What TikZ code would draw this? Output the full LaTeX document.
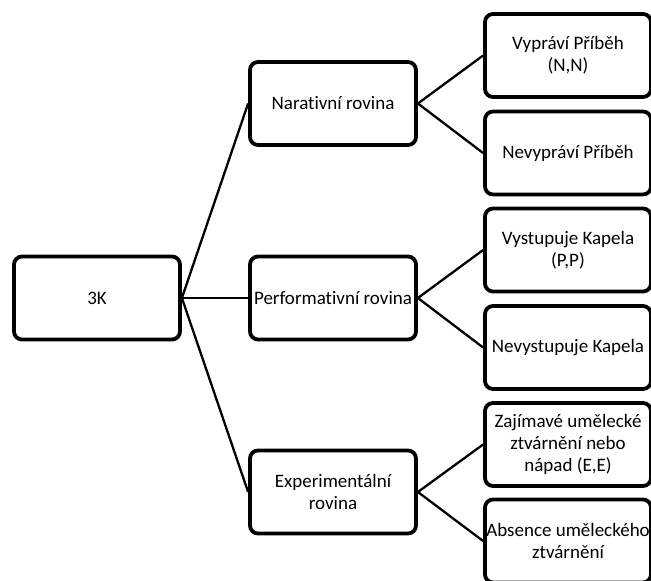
\documentclass[tikz,border=0pt]{standalone}
\usepackage{fontspec}
\setmainfont{Carlito}[Ligatures=NoCommon]
\begin{document}
\begin{tikzpicture}[x=1pt,y=-1pt,
  box/.style={draw=black, line width=3.8pt, rounded corners=8pt, fill=white,
    minimum width=166pt, minimum height=83pt, align=center, inner sep=1pt,
    font=\fontsize{19}{22}\selectfont},
  link/.style={draw=black, line width=2.3pt}]
  \useasboundingbox (0,0) rectangle (651,581);
  % root
  \node[box] (root) at (97,298) {3K};
  % second level
  \node[box] (nar) at (333,103.5) {Narativní rovina};
  \node[box] (per) at (333,298) {Performativní rovina};
  \node[box] (exp) at (333,492) {Experimentální\\rovina};
  % leaves
  \node[box] (n1) at (568,55.5) {Vypráví Příběh\\(N,N)};
  \node[box] (n2) at (568,153) {Nevypráví Příběh};
  \node[box] (p1) at (568,250) {Vystupuje Kapela\\(P,P)};
  \node[box] (p2) at (568,347.5) {Nevystupuje Kapela};
  \node[box] (e1) at (568,444.5) {Zajímavé umělecké\\ztvárnění nebo\\nápad (E,E)};
  \node[box] (e2) at (568,541) {Absence uměleckého\\ztvárnění};
  % connectors
  \foreach \a/\b in {root/nar, root/per, root/exp,
                     nar/n1, nar/n2, per/p1, per/p2, exp/e1, exp/e2}
    \draw[link] (\a.east) -- (\b.west);
\end{tikzpicture}
\end{document}
